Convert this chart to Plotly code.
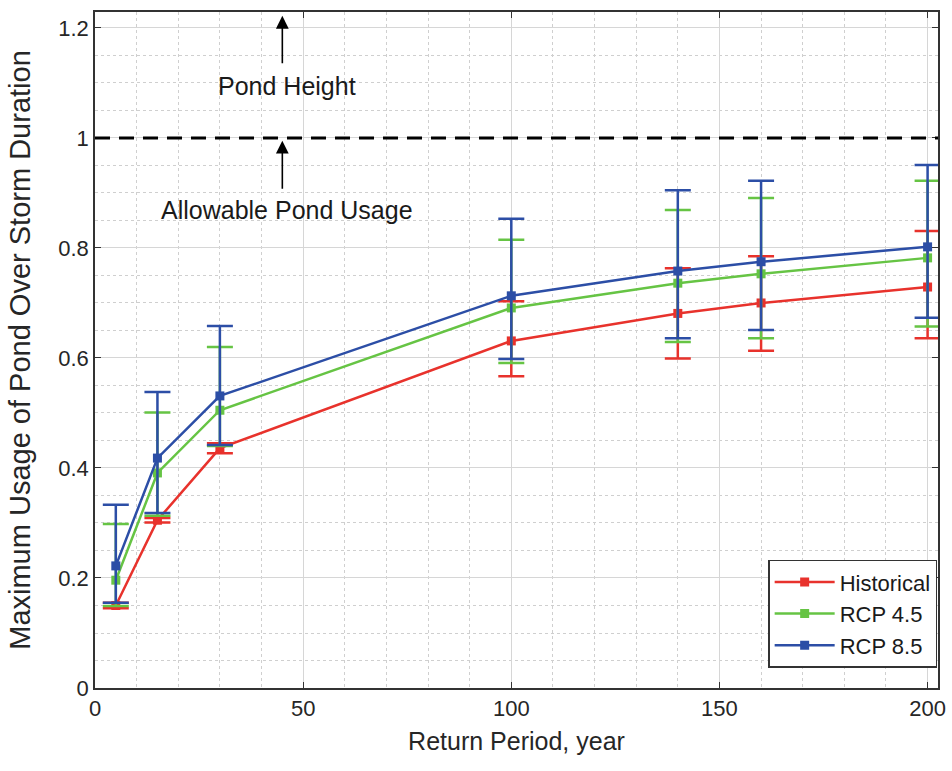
import plotly.graph_objects as go

# Return periods (years) and the usage values
return_period = [5, 15, 30, 100, 140, 160, 200]

hist_mean = [0.150, 0.305, 0.436, 0.631, 0.681, 0.700, 0.729]
hist_low = [0.145, 0.301, 0.427, 0.567, 0.599, 0.613, 0.636]
hist_high = [0.155, 0.309, 0.445, 0.703, 0.763, 0.785, 0.831]

rcp45_mean = [0.196, 0.391, 0.505, 0.691, 0.736, 0.753, 0.782]
rcp45_low = [0.149, 0.313, 0.440, 0.591, 0.629, 0.636, 0.657]
rcp45_high = [0.298, 0.501, 0.620, 0.815, 0.869, 0.891, 0.922]

rcp85_mean = [0.222, 0.418, 0.531, 0.713, 0.758, 0.775, 0.802]
rcp85_low = [0.155, 0.318, 0.442, 0.598, 0.636, 0.651, 0.673]
rcp85_high = [0.333, 0.538, 0.658, 0.853, 0.905, 0.922, 0.951]

SERIES = [
    ("Historical", hist_mean, hist_low, hist_high, "#e8322c"),
    ("RCP 4.5", rcp45_mean, rcp45_low, rcp45_high, "#66c444"),
    ("RCP 8.5", rcp85_mean, rcp85_low, rcp85_high, "#2c4ea6"),
]

FONT = "Liberation Sans, Arial, sans-serif"
TEXT = "#262626"

fig = go.Figure()

for name, mean, low, high, color in SERIES:
    fig.add_trace(
        go.Scatter(
            x=return_period,
            y=mean,
            mode="lines+markers",
            name=name,
            line=dict(color=color, width=2.5),
            marker=dict(symbol="square", size=9, color=color),
            error_y=dict(
                type="data",
                symmetric=False,
                array=[h - m for h, m in zip(high, mean)],
                arrayminus=[m - l for m, l in zip(mean, low)],
                color=color,
                thickness=2.5,
                width=13,
            ),
        )
    )

# allowable usage threshold
fig.add_hline(y=1, line=dict(color="black", width=3, dash="15px,9px"), layer="above")

for text, y_text, y_tail, y_head in [
    ("Pond Height", 1.095, 1.133, 1.222),
    ("Allowable Pond Usage", 0.869, 0.905, 0.995),
]:
    fig.add_annotation(
        x=45, y=y_head, ax=45, ay=y_tail, xref="x", yref="y", axref="x", ayref="y",
        text="", showarrow=True, arrowhead=2, arrowsize=1.6, arrowwidth=1.6,
        arrowcolor="black",
    )
    fig.add_annotation(
        x=46, y=y_text, xref="x", yref="y", text=text, showarrow=False,
        font=dict(family=FONT, size=25, color="#1a1a1a"),
    )

axis_common = dict(
    showline=True,
    linecolor="#333333",
    linewidth=1.5,
    mirror="ticks",
    ticks="inside",
    ticklen=6,
    tickcolor="#333333",
    showgrid=True,
    gridcolor="#d6d6d6",
    gridwidth=1,
    zeroline=False,
    automargin=False,
    ticklabeloverflow="allow",
    tickfont=dict(family=FONT, size=22, color=TEXT),
)

fig.update_xaxes(
    **axis_common,
    range=[0, 202.5],
    tickvals=[0, 50, 100, 150, 200],
    minor=dict(dtick=10, showgrid=True, gridcolor="#cfcfcf", griddash="dot", gridwidth=1),
    title=dict(text="Return Period, year", font=dict(family=FONT, size=25, color=TEXT), standoff=12),
)
fig.update_yaxes(
    **axis_common,
    range=[0, 1.229],
    tickvals=[0, 0.2, 0.4, 0.6, 0.8, 1.0, 1.2],
    ticktext=["0", "0.2", "0.4", "0.6", "0.8", "1", "1.2"],
    minor=dict(dtick=0.05, showgrid=True, gridcolor="#cfcfcf", griddash="dot", gridwidth=1),
    title=dict(text="Maximum Usage of Pond Over Storm Duration", font=dict(family=FONT, size=29, color=TEXT), standoff=19),
)

fig.update_layout(
    width=952,
    height=771,
    plot_bgcolor="white",
    paper_bgcolor="white",
    margin=dict(l=95, r=14, t=12, b=83),
    font=dict(family=FONT),
    legend=dict(
        x=0.999, y=0.03, xanchor="right", yanchor="bottom",
        bgcolor="white", bordercolor="#333333", borderwidth=1.5,
        font=dict(family=FONT, size=22, color="#1a1a1a"),
        itemwidth=60, tracegroupgap=0,
    ),
)

# drop the default page margin so the figure fills the window exactly
fig.write_html(
    "out.html",
    config={"displayModeBar": False},
    post_script="document.body.style.margin='0';document.body.style.overflow='hidden';",
)
